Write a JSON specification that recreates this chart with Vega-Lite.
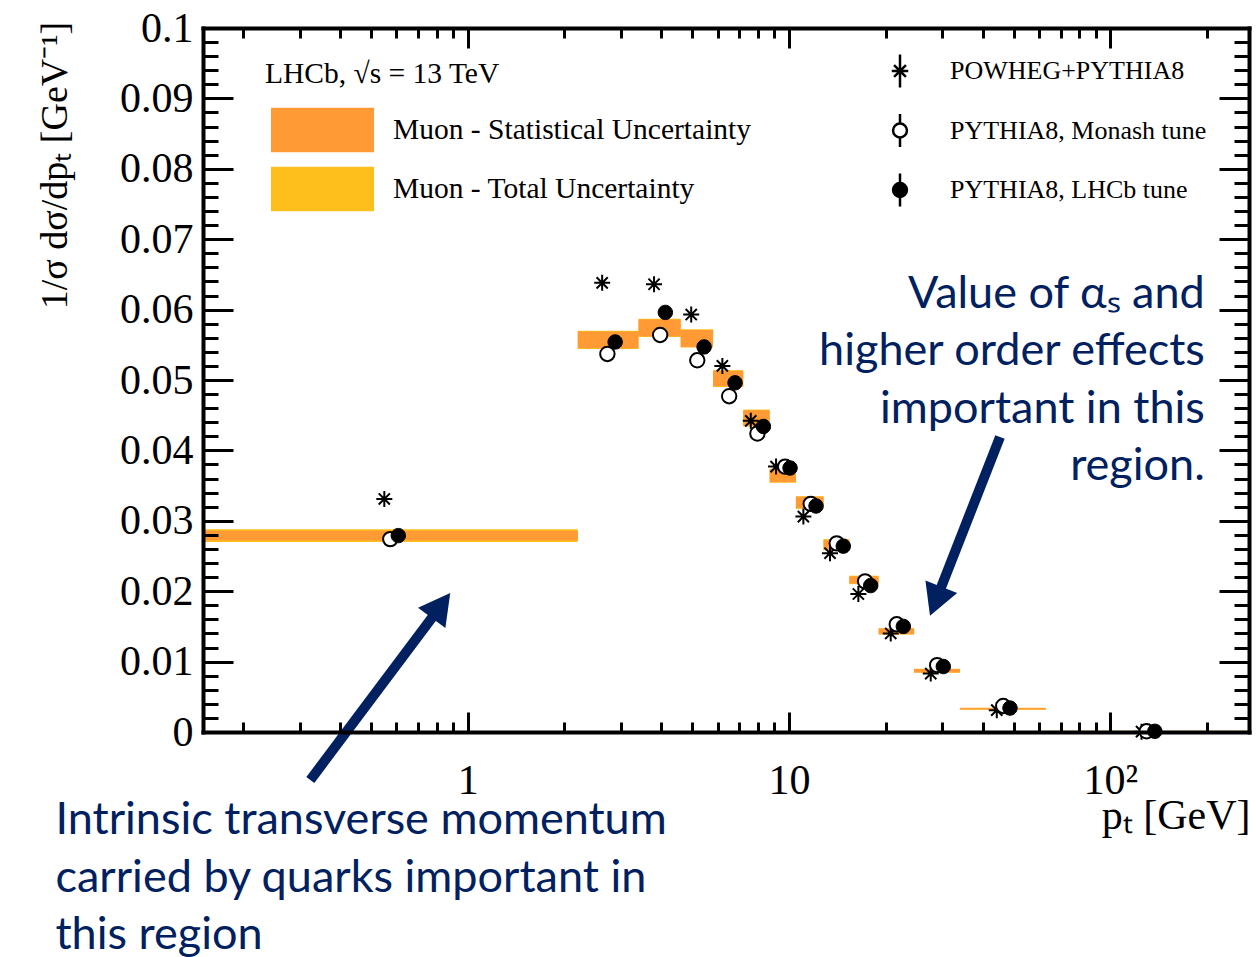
{
  "$schema": "https://vega.github.io/schema/vega-lite/v6.json",
  "width": 1046,
  "height": 704,
  "autosize": {"type": "none"},
  "padding": {"left": 203, "top": 28, "right": 7, "bottom": 225},
  "background": "white",
  "config": {"view": {"stroke": null}, "legend": {"padding": 0}},
  "datasets": {
    "bins": [
      {"lo": 0.15, "hi": 2.2, "stat_lo": 0.0272, "stat_hi": 0.0286, "tot_lo": 0.0270, "tot_hi": 0.0288},
      {"lo": 2.2, "hi": 3.4, "stat_lo": 0.0545, "stat_hi": 0.0569, "tot_lo": 0.0544, "tot_hi": 0.0570},
      {"lo": 3.4, "hi": 4.6, "stat_lo": 0.0562, "stat_hi": 0.0586, "tot_lo": 0.0561, "tot_hi": 0.0587},
      {"lo": 4.6, "hi": 5.8, "stat_lo": 0.0547, "stat_hi": 0.0571, "tot_lo": 0.0546, "tot_hi": 0.0572},
      {"lo": 5.8, "hi": 7.2, "stat_lo": 0.0491, "stat_hi": 0.0513, "tot_lo": 0.0490, "tot_hi": 0.0514},
      {"lo": 7.2, "hi": 8.7, "stat_lo": 0.0435, "stat_hi": 0.0457, "tot_lo": 0.0434, "tot_hi": 0.0458},
      {"lo": 8.7, "hi": 10.5, "stat_lo": 0.0355, "stat_hi": 0.0373, "tot_lo": 0.0354, "tot_hi": 0.0374},
      {"lo": 10.5, "hi": 12.8, "stat_lo": 0.0318, "stat_hi": 0.0334, "tot_lo": 0.0317, "tot_hi": 0.0335},
      {"lo": 12.8, "hi": 15.4, "stat_lo": 0.0259, "stat_hi": 0.0273, "tot_lo": 0.0258, "tot_hi": 0.0274},
      {"lo": 15.4, "hi": 19.0, "stat_lo": 0.0211, "stat_hi": 0.0221, "tot_lo": 0.0210, "tot_hi": 0.0222},
      {"lo": 19.0, "hi": 24.5, "stat_lo": 0.0139, "stat_hi": 0.0147, "tot_lo": 0.01385, "tot_hi": 0.01475},
      {"lo": 24.5, "hi": 34.0, "stat_lo": 0.00845, "stat_hi": 0.00895, "tot_lo": 0.0084, "tot_hi": 0.0090},
      {"lo": 34.0, "hi": 63.0, "stat_lo": 0.00318, "stat_hi": 0.00342, "tot_lo": 0.00315, "tot_hi": 0.00345},
      {"lo": 63.0, "hi": 270.0, "stat_lo": 0.00005, "stat_hi": 0.00015, "tot_lo": 0.00004, "tot_hi": 0.00016}
    ],
    "models": [
      {"model": "POWHEG+PYTHIA8", "pt": 0.55, "val": 0.0331},
      {"model": "POWHEG+PYTHIA8", "pt": 2.62, "val": 0.0638},
      {"model": "POWHEG+PYTHIA8", "pt": 3.80, "val": 0.0636},
      {"model": "POWHEG+PYTHIA8", "pt": 4.96, "val": 0.0593},
      {"model": "POWHEG+PYTHIA8", "pt": 6.20, "val": 0.0520},
      {"model": "POWHEG+PYTHIA8", "pt": 7.60, "val": 0.0442},
      {"model": "POWHEG+PYTHIA8", "pt": 9.11, "val": 0.0377},
      {"model": "POWHEG+PYTHIA8", "pt": 11.08, "val": 0.0306},
      {"model": "POWHEG+PYTHIA8", "pt": 13.41, "val": 0.0254},
      {"model": "POWHEG+PYTHIA8", "pt": 16.43, "val": 0.0196},
      {"model": "POWHEG+PYTHIA8", "pt": 20.72, "val": 0.0140},
      {"model": "POWHEG+PYTHIA8", "pt": 27.6, "val": 0.0083},
      {"model": "POWHEG+PYTHIA8", "pt": 44.3, "val": 0.0031},
      {"model": "POWHEG+PYTHIA8", "pt": 125, "val": 0.00005},
      {"model": "PYTHIA8, Monash tune", "pt": 0.574, "val": 0.0274},
      {"model": "PYTHIA8, Monash tune", "pt": 2.72, "val": 0.0537},
      {"model": "PYTHIA8, Monash tune", "pt": 3.97, "val": 0.0564},
      {"model": "PYTHIA8, Monash tune", "pt": 5.18, "val": 0.0528},
      {"model": "PYTHIA8, Monash tune", "pt": 6.51, "val": 0.0477},
      {"model": "PYTHIA8, Monash tune", "pt": 7.97, "val": 0.0424},
      {"model": "PYTHIA8, Monash tune", "pt": 9.72, "val": 0.0377},
      {"model": "PYTHIA8, Monash tune", "pt": 11.68, "val": 0.0324},
      {"model": "PYTHIA8, Monash tune", "pt": 14.07, "val": 0.0268},
      {"model": "PYTHIA8, Monash tune", "pt": 17.24, "val": 0.0214},
      {"model": "PYTHIA8, Monash tune", "pt": 21.63, "val": 0.0153},
      {"model": "PYTHIA8, Monash tune", "pt": 28.9, "val": 0.0095},
      {"model": "PYTHIA8, Monash tune", "pt": 46.4, "val": 0.0037},
      {"model": "PYTHIA8, Monash tune", "pt": 129.6, "val": 0.0001},
      {"model": "PYTHIA8, LHCb tune", "pt": 0.608, "val": 0.0279},
      {"model": "PYTHIA8, LHCb tune", "pt": 2.876, "val": 0.0554},
      {"model": "PYTHIA8, LHCb tune", "pt": 4.12, "val": 0.0596},
      {"model": "PYTHIA8, LHCb tune", "pt": 5.44, "val": 0.0547},
      {"model": "PYTHIA8, LHCb tune", "pt": 6.79, "val": 0.0496},
      {"model": "PYTHIA8, LHCb tune", "pt": 8.32, "val": 0.0434},
      {"model": "PYTHIA8, LHCb tune", "pt": 10.07, "val": 0.0375},
      {"model": "PYTHIA8, LHCb tune", "pt": 12.13, "val": 0.0321},
      {"model": "PYTHIA8, LHCb tune", "pt": 14.75, "val": 0.0264},
      {"model": "PYTHIA8, LHCb tune", "pt": 17.95, "val": 0.0208},
      {"model": "PYTHIA8, LHCb tune", "pt": 22.68, "val": 0.0150},
      {"model": "PYTHIA8, LHCb tune", "pt": 30.2, "val": 0.0093},
      {"model": "PYTHIA8, LHCb tune", "pt": 48.7, "val": 0.0034},
      {"model": "PYTHIA8, LHCb tune", "pt": 137.5, "val": 0.0001}
    ]
  },
  "resolve": {"axis": {"x": "independent", "y": "independent"}},
  "layer": [
    {
      "data": {"name": "bins"},
      "mark": {"type": "rect", "opacity": 1},
      "encoding": {
        "x": {"field": "lo", "type": "quantitative", "scale": {"type": "log", "domain": [0.15, 270], "nice": false},
          "axis": {"orient": "bottom", "values": [1, 10, 100], "ticks": false, "domain": false, "grid": false,
            "labelFont": "Liberation Serif", "labelFontSize": 42, "labelColor": "black", "labelPadding": 28,
            "labelOverlap": false, "labelFlush": false, "labelBound": false,
            "labelExpr": "datum.value == 100 ? '10²' : datum.value == 10 ? '10' : '1'",
            "title": "pₜ   [GeV]", "titleFont": "Liberation Serif", "titleFontSize": 42, "titleFontWeight": "normal",
            "titleColor": "black", "titleX": 1047, "titleY": 96, "titleAlign": "right", "titleAnchor": "end",
            "titleBaseline": "alphabetic", "zindex": 1}},
        "x2": {"field": "hi"},
        "y": {"field": "tot_lo", "type": "quantitative", "scale": {"domain": [0, 0.1], "nice": false, "zero": false},
          "axis": {"orient": "left", "values": [0, 0.01, 0.02, 0.03, 0.04, 0.05, 0.06, 0.07, 0.08, 0.09, 0.1],
            "ticks": false, "domain": false, "grid": false, "format": "~g",
            "labelFont": "Liberation Serif", "labelFontSize": 42, "labelColor": "black", "labelPadding": 10,
            "labelOverlap": false, "labelFlush": false, "labelBound": false,
            "title": "1/σ dσ/dpₜ  [GeV⁻¹]", "titleFont": "Liberation Serif", "titleFontSize": 38,
            "titleFontWeight": "normal", "titleColor": "black", "titleAngle": 270, "titleX": -148, "titleY": 137,
            "titleAlign": "center", "titleBaseline": "middle", "zindex": 1}},
        "y2": {"field": "tot_hi"},
        "color": {"datum": "Muon - Total Uncertainty", "type": "nominal",
          "scale": {"domain": ["Muon - Statistical Uncertainty", "Muon - Total Uncertainty"], "range": ["#FF9A35", "#FEBE1C"]},
          "legend": {"orient": "none", "direction": "vertical", "legendX": 62, "legendY": 32,
            "title": "LHCb, √s = 13 TeV", "titleFont": "Liberation Serif", "titleFontSize": 29.5, "titleFontWeight": "normal",
            "titleColor": "black", "titlePadding": 18, "titleLimit": 600,
            "symbolType": "M-1,-0.437H1V0.437H-1Z", "symbolSize": 10609, "symbolStrokeWidth": 0, "symbolOffset": 6,
            "clipHeight": 45, "rowPadding": 14, "labelOffset": 19, "labelFont": "Liberation Serif", "labelFontSize": 29.5,
            "labelColor": "black", "labelLimit": 600}}
      }
    },
    {
      "data": {"name": "bins"},
      "mark": {"type": "rect", "opacity": 1},
      "encoding": {
        "x": {"field": "lo", "type": "quantitative",
          "axis": {"orient": "bottom", "values": [1, 10, 100], "labels": false, "grid": false, "domain": true,
            "domainColor": "black", "domainWidth": 4, "domainCap": "square", "ticks": true, "tickSize": -20,
            "tickWidth": 3, "tickColor": "black", "title": null, "zindex": 1}},
        "x2": {"field": "hi"},
        "y": {"field": "stat_lo", "type": "quantitative",
          "axis": {"orient": "left", "values": [0, 0.01, 0.02, 0.03, 0.04, 0.05, 0.06, 0.07, 0.08, 0.09, 0.1],
            "labels": false, "grid": false, "domain": true, "domainColor": "black", "domainWidth": 4,
            "domainCap": "square", "ticks": true, "tickSize": -30, "tickWidth": 3, "tickColor": "black",
            "title": null, "zindex": 1}},
        "y2": {"field": "stat_hi"},
        "color": {"datum": "Muon - Statistical Uncertainty", "type": "nominal",
          "legend": {"orient": "none", "direction": "vertical", "legendX": 62, "legendY": 32,
            "title": "LHCb, √s = 13 TeV", "titleFont": "Liberation Serif", "titleFontSize": 29.5, "titleFontWeight": "normal",
            "titleColor": "black", "titlePadding": 18, "titleLimit": 600,
            "symbolType": "M-1,-0.437H1V0.437H-1Z", "symbolSize": 10609, "symbolStrokeWidth": 0, "symbolOffset": 6,
            "clipHeight": 45, "rowPadding": 14, "labelOffset": 19, "labelFont": "Liberation Serif", "labelFontSize": 29.5,
            "labelColor": "black", "labelLimit": 600}}
      }
    },
    {
      "data": {"name": "models"},
      "transform": [{"filter": "datum.model === 'POWHEG+PYTHIA8'"}],
      "mark": {"type": "point", "shape": "M-1,0L1,0M0,-1L0,1M-0.7,-0.7L0.7,0.7M-0.7,0.7L0.7,-0.7", "filled": false, "stroke": "black", "strokeWidth": 2, "size": 256, "opacity": 1},
      "encoding": {
        "x": {"field": "pt", "type": "quantitative",
          "axis": {"orient": "bottom", "values": [0.2, 0.3, 0.4, 0.5, 0.6, 0.7, 0.8, 0.9, 2, 3, 4, 5, 6, 7, 8, 9, 20, 30, 40, 50, 60, 70, 80, 90, 200],
            "labels": false, "grid": false, "domain": false, "ticks": true, "tickSize": -10, "tickWidth": 3,
            "tickColor": "black", "title": null, "zindex": 1}},
        "y": {"field": "val", "type": "quantitative",
          "axis": {"orient": "left", "values": [0.002, 0.004, 0.006, 0.008, 0.012, 0.014, 0.016, 0.018, 0.022, 0.024, 0.026, 0.028, 0.032, 0.034, 0.036, 0.038, 0.042, 0.044, 0.046, 0.048, 0.052, 0.054, 0.056, 0.058, 0.062, 0.064, 0.066, 0.068, 0.072, 0.074, 0.076, 0.078, 0.082, 0.084, 0.086, 0.088, 0.092, 0.094, 0.096, 0.098],
            "labels": false, "grid": false, "domain": false, "ticks": true, "tickSize": -15, "tickWidth": 3,
            "tickColor": "black", "title": null, "zindex": 1}}
      }
    },
    {
      "data": {"name": "models"},
      "transform": [{"filter": "datum.model === 'PYTHIA8, Monash tune'"}],
      "mark": {"type": "point", "shape": "M0.9,0A0.9,0.9 0 1,1 -0.9,0A0.9,0.9 0 1,1 0.9,0Z", "filled": false, "fill": "white", "stroke": "black", "strokeWidth": 2, "size": 256, "opacity": 1},
      "encoding": {
        "x": {"field": "pt", "type": "quantitative",
          "axis": {"orient": "top", "values": [1, 10, 100], "labels": false, "grid": false, "domain": true,
            "domainColor": "black", "domainWidth": 4, "domainCap": "square", "ticks": true, "tickSize": -20,
            "tickWidth": 3, "tickColor": "black", "title": null, "zindex": 1}},
        "y": {"field": "val", "type": "quantitative",
          "axis": {"orient": "right", "values": [0, 0.01, 0.02, 0.03, 0.04, 0.05, 0.06, 0.07, 0.08, 0.09, 0.1],
            "labels": false, "grid": false, "domain": true, "domainColor": "black", "domainWidth": 4,
            "domainCap": "square", "ticks": true, "tickSize": -30, "tickWidth": 3, "tickColor": "black",
            "title": null, "zindex": 1}}
      }
    },
    {
      "data": {"name": "models"},
      "transform": [{"filter": "datum.model === 'PYTHIA8, LHCb tune'"}],
      "mark": {"type": "point", "shape": "M0.9,0A0.9,0.9 0 1,1 -0.9,0A0.9,0.9 0 1,1 0.9,0Z", "filled": true, "fill": "black", "stroke": "black", "strokeWidth": 1, "size": 256, "opacity": 1},
      "encoding": {
        "x": {"field": "pt", "type": "quantitative",
          "axis": {"orient": "top", "values": [0.2, 0.3, 0.4, 0.5, 0.6, 0.7, 0.8, 0.9, 2, 3, 4, 5, 6, 7, 8, 9, 20, 30, 40, 50, 60, 70, 80, 90, 200],
            "labels": false, "grid": false, "domain": false, "ticks": true, "tickSize": -10, "tickWidth": 3,
            "tickColor": "black", "title": null, "zindex": 1}},
        "y": {"field": "val", "type": "quantitative",
          "axis": {"orient": "right", "values": [0.002, 0.004, 0.006, 0.008, 0.012, 0.014, 0.016, 0.018, 0.022, 0.024, 0.026, 0.028, 0.032, 0.034, 0.036, 0.038, 0.042, 0.044, 0.046, 0.048, 0.052, 0.054, 0.056, 0.058, 0.062, 0.064, 0.066, 0.068, 0.072, 0.074, 0.076, 0.078, 0.082, 0.084, 0.086, 0.088, 0.092, 0.094, 0.096, 0.098],
            "labels": false, "grid": false, "domain": false, "ticks": true, "tickSize": -15, "tickWidth": 3,
            "tickColor": "black", "title": null, "zindex": 1}}
      }
    },
    {
      "data": {"name": "models"},
      "mark": {"type": "point", "filled": false, "stroke": "black", "strokeWidth": 2.5, "size": 1089, "opacity": 0},
      "encoding": {
        "x": {"field": "pt", "type": "quantitative", "axis": null},
        "y": {"field": "val", "type": "quantitative", "axis": null},
        "fill": {"field": "model", "type": "nominal",
          "scale": {"domain": ["POWHEG+PYTHIA8", "PYTHIA8, Monash tune", "PYTHIA8, LHCb tune"], "range": ["white", "white", "black"]},
          "legend": {"orient": "none", "direction": "vertical", "legendX": 679, "legendY": 25, "title": null,
            "labelFont": "Liberation Serif", "labelFontSize": 26, "labelColor": "black", "labelOffset": 32, "labelLimit": 500,
            "rowPadding": 15.5, "symbolSize": 1089, "symbolStrokeWidth": 2.5, "symbolOpacity": 1}},
        "shape": {"field": "model", "type": "nominal",
          "scale": {"domain": ["POWHEG+PYTHIA8", "PYTHIA8, Monash tune", "PYTHIA8, LHCb tune"],
            "range": ["M0,-1L0,1M-0.5,0L0.5,0M-0.36,-0.36L0.36,0.36M-0.36,0.36L0.36,-0.36", "M0,-1L0,-0.42M0,0.42L0,1M0.42,0A0.42,0.42 0 1,1 -0.42,0A0.42,0.42 0 1,1 0.42,0Z", "M0,-1L0,1M0.42,0A0.42,0.42 0 1,1 -0.42,0A0.42,0.42 0 1,1 0.42,0Z"]},
          "legend": {"orient": "none", "direction": "vertical", "legendX": 679, "legendY": 25, "title": null,
            "labelFont": "Liberation Serif", "labelFontSize": 26, "labelColor": "black", "labelOffset": 32, "labelLimit": 500,
            "rowPadding": 15.5, "symbolSize": 1089, "symbolStrokeWidth": 2.5, "symbolOpacity": 1}}
      }
    },
    {
      "data": {"values": [{}]},
      "mark": {"type": "rule", "stroke": "#002060", "strokeWidth": 10},
      "encoding": {
        "x": {"datum": 0.3236, "type": "quantitative", "axis": null},
        "y": {"datum": -0.006818, "type": "quantitative", "axis": null},
        "x2": {"datum": 0.7895},
        "y2": {"datum": 0.016776}
      }
    },
    {
      "data": {"values": [{}]},
      "mark": {"type": "rule", "stroke": "#002060", "strokeWidth": 10},
      "encoding": {
        "x": {"datum": 45.33, "type": "quantitative", "axis": null},
        "y": {"datum": 0.041903, "type": "quantitative", "axis": null},
        "x2": {"datum": 29.38},
        "y2": {"datum": 0.019957}
      }
    },
    {
      "data": {"values": [{}]},
      "mark": {"type": "point", "shape": "M0,0L-0.55,1L0.55,1Z", "size": 3844, "filled": true, "fill": "#002060", "strokeWidth": 0, "angle": 36.7, "opacity": 1},
      "encoding": {
        "x": {"datum": 0.8821, "type": "quantitative", "axis": null},
        "y": {"datum": 0.019744, "type": "quantitative", "axis": null}
      }
    },
    {
      "data": {"values": [{}]},
      "mark": {"type": "point", "shape": "M0,0L-0.55,1L0.55,1Z", "size": 3844, "filled": true, "fill": "#002060", "strokeWidth": 0, "angle": 201.4, "opacity": 1},
      "encoding": {
        "x": {"datum": 27.45, "type": "quantitative", "axis": null},
        "y": {"datum": 0.01652, "type": "quantitative", "axis": null}
      }
    },
    {
      "data": {"values": [{}]},
      "mark": {"type": "text", "font": "Lato", "fontSize": 45, "color": "#002060", "align": "right", "baseline": "alphabetic", "lineBreak": "\n", "lineHeight": 57.3},
      "encoding": {
        "x": {"datum": 196.7, "type": "quantitative", "axis": null},
        "y": {"datum": 0.060227, "type": "quantitative", "axis": null},
        "text": {"value": "Value of αₛ and\nhigher order effects\nimportant in this\nregion."}
      }
    },
    {
      "data": {"values": [{}]},
      "mark": {"type": "text", "font": "Lato", "fontSize": 45, "color": "#002060", "align": "left", "baseline": "alphabetic", "lineBreak": "\n", "lineHeight": 57.5},
      "encoding": {
        "x": {"datum": 0.05212, "type": "quantitative", "axis": null},
        "y": {"datum": -0.0145, "type": "quantitative", "axis": null},
        "text": {"value": "Intrinsic transverse momentum\ncarried by quarks important in\nthis region"}
      }
    }
  ]
}
